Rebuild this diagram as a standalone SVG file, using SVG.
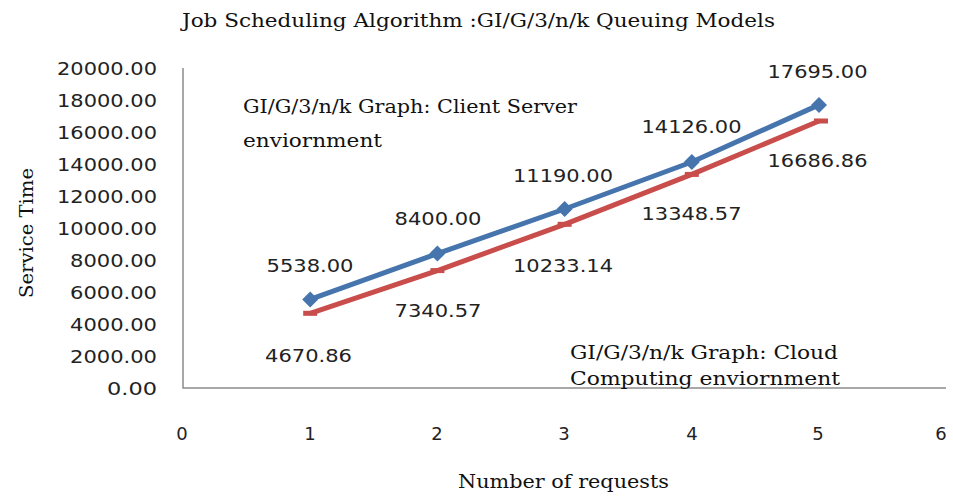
<svg xmlns="http://www.w3.org/2000/svg" width="953" height="497" viewBox="0 0 953 497">
<style>
.serif{font-family:"DejaVu Serif","Liberation Serif",serif;font-size:19px;fill:#111}
.num{font-family:"DejaVu Sans","Liberation Sans",sans-serif;font-size:18px;fill:#222}
.ylab{text-anchor:end}
.mid{text-anchor:middle}
.axis{stroke:#8c8c8c;stroke-width:1.5;fill:none}
.blue{stroke:#4674ad;stroke-width:5;fill:none;stroke-linejoin:round}
.red{stroke:#c84d4b;stroke-width:5;fill:none;stroke-linejoin:round}
</style>
<defs>
<path id="dia" d="M0,-8 L8,0 L0,8 L-8,0 Z" fill="#4674ad"/>
<rect id="sq" x="-7" y="-2.5" width="14" height="5" fill="#c84d4b"/>
</defs>
<rect width="953" height="497" fill="#ffffff"/>
<text class="serif" x="182" y="27" textLength="593" lengthAdjust="spacingAndGlyphs">Job Scheduling Algorithm :GI/G/3/n/k Queuing Models</text>
<g id="axes">
<path class="axis" d="M183,68 V388 H946"/>
</g>
<g id="y-ticks" class="num ylab">
<text x="157" y="74.5" textLength="100" lengthAdjust="spacingAndGlyphs">20000.00</text>
<text x="157" y="106.5" textLength="100" lengthAdjust="spacingAndGlyphs">18000.00</text>
<text x="157" y="138.5" textLength="100" lengthAdjust="spacingAndGlyphs">16000.00</text>
<text x="157" y="170.5" textLength="100" lengthAdjust="spacingAndGlyphs">14000.00</text>
<text x="157" y="202.5" textLength="100" lengthAdjust="spacingAndGlyphs">12000.00</text>
<text x="157" y="234.5" textLength="100" lengthAdjust="spacingAndGlyphs">10000.00</text>
<text x="157" y="266.5" textLength="87" lengthAdjust="spacingAndGlyphs">8000.00</text>
<text x="157" y="298.5" textLength="87" lengthAdjust="spacingAndGlyphs">6000.00</text>
<text x="157" y="330.5" textLength="87" lengthAdjust="spacingAndGlyphs">4000.00</text>
<text x="157" y="362.5" textLength="87" lengthAdjust="spacingAndGlyphs">2000.00</text>
<text x="157" y="394.5" textLength="50" lengthAdjust="spacingAndGlyphs">0.00</text>
</g>
<g id="x-ticks" class="num mid">
<text x="182" y="440">0</text>
<text x="310" y="440">1</text>
<text x="437" y="440">2</text>
<text x="564" y="440">3</text>
<text x="692" y="440">4</text>
<text x="818" y="440">5</text>
<text x="941" y="440">6</text>
</g>
<text class="serif" transform="translate(33,233) rotate(-90)" x="0" y="0" text-anchor="middle" textLength="130" lengthAdjust="spacingAndGlyphs">Service Time</text>
<text class="serif" x="458" y="488" textLength="211" lengthAdjust="spacingAndGlyphs">Number of requests</text>
<g id="series-cloud">
<polyline class="red" points="310.2,313.3 437.4,270.6 564.6,224.3 691.8,174.4 819,121"/>
<use href="#sq" x="310.2" y="313.3"/>
<use href="#sq" x="437.4" y="270.6"/>
<use href="#sq" x="564.6" y="224.3"/>
<use href="#sq" x="691.8" y="174.4"/>
<use href="#sq" x="821" y="121"/>
</g>
<g id="series-client">
<polyline class="blue" points="310.2,299.4 437.4,253.6 564.6,209 691.8,162 819,104.9"/>
<use href="#dia" x="310.2" y="299.4"/>
<use href="#dia" x="437.4" y="253.6"/>
<use href="#dia" x="564.6" y="209"/>
<use href="#dia" x="691.8" y="162"/>
<use href="#dia" x="819" y="104.9"/>
</g>
<g id="labels-client" class="num mid">
<text x="310" y="271.5" textLength="87" lengthAdjust="spacingAndGlyphs">5538.00</text>
<text x="438" y="224.5" textLength="87" lengthAdjust="spacingAndGlyphs">8400.00</text>
<text x="563" y="181.5" textLength="100" lengthAdjust="spacingAndGlyphs">11190.00</text>
<text x="691.5" y="132.5" textLength="100" lengthAdjust="spacingAndGlyphs">14126.00</text>
<text x="817.5" y="77.5" textLength="100" lengthAdjust="spacingAndGlyphs">17695.00</text>
</g>
<g id="labels-cloud" class="num mid">
<text x="308.5" y="361.5" textLength="87" lengthAdjust="spacingAndGlyphs">4670.86</text>
<text x="438" y="316.5" textLength="87" lengthAdjust="spacingAndGlyphs">7340.57</text>
<text x="563" y="271.5" textLength="100" lengthAdjust="spacingAndGlyphs">10233.14</text>
<text x="691.5" y="219.5" textLength="100" lengthAdjust="spacingAndGlyphs">13348.57</text>
<text x="817.5" y="166.5" textLength="100" lengthAdjust="spacingAndGlyphs">16686.86</text>
</g>
<g id="legend-client" class="serif">
<text x="243" y="113" textLength="334" lengthAdjust="spacingAndGlyphs">GI/G/3/n/k Graph: Client Server</text>
<text x="243" y="147" textLength="139" lengthAdjust="spacingAndGlyphs">enviornment</text>
</g>
<g id="legend-cloud" class="serif">
<text x="570" y="359" textLength="268" lengthAdjust="spacingAndGlyphs">GI/G/3/n/k Graph: Cloud</text>
<text x="570" y="385" textLength="270" lengthAdjust="spacingAndGlyphs">Computing enviornment</text>
</g>
</svg>
